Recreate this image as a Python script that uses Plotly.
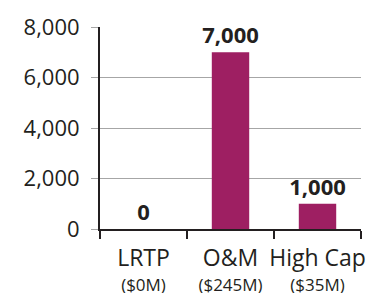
import plotly.graph_objects as go

categories = ["LRTP", "O&M", "High Cap"]
subtitles = ["($0M)", "($245M)", "($35M)"]
values = [0, 7000, 1000]
value_labels = ["0", "7,000", "1,000"]
y_ticks = [0, 2000, 4000, 6000, 8000]
y_tick_labels = ["0", "2,000", "4,000", "6,000", "8,000"]

dark = "#231f20"
grid = "#a6a6a6"
bar_color = "#9e1f62"
font_family = "'Open Sans', sans-serif"

tick_text = [
    f"<span style='font-size:23px'>{c}</span><br><span style='font-size:17px'>{s}</span>"
    for c, s in zip(categories, subtitles)
]

fig = go.Figure(go.Bar(
    x=categories,
    y=values,
    width=0.43,
    marker=dict(color=bar_color, line=dict(width=0)),
    text=value_labels,
    texttemplate="<b>%{text}</b>",
    textposition="outside",
    constraintext="none",
    textfont=dict(size=22, color=dark, family=font_family),
    cliponaxis=False,
))

fig.update_layout(
    width=369,
    height=293,
    margin=dict(l=100, r=8, t=27, b=64),
    paper_bgcolor="white",
    plot_bgcolor="white",
    showlegend=False,
    font=dict(family=font_family, color=dark),
    uniformtext=dict(mode=False),
    xaxis=dict(
        type="category",
        tickmode="array",
        tickvals=categories,
        ticktext=tick_text,
        tickson="boundaries",
        tickangle=0,
        ticks="outside",
        ticklen=8,
        tickwidth=2,
        tickcolor=dark,
        ticklabelstandoff=12,
        showline=True,
        linecolor=dark,
        linewidth=2,
        showgrid=False,
        tickfont=dict(size=19, color=dark),
        automargin=False,
        range=[-0.5, 2.5],
    ),
    yaxis=dict(
        range=[0, 8000],
        tickmode="array",
        tickvals=y_ticks,
        ticktext=y_tick_labels,
        ticks="outside",
        ticklen=7,
        tickwidth=1,
        tickcolor=grid,
        ticklabelstandoff=7,
        showline=True,
        linecolor=dark,
        linewidth=2,
        showgrid=True,
        gridcolor=grid,
        gridwidth=1,
        zeroline=False,
        tickfont=dict(size=22, color=dark),
        automargin=False,
    ),
)

fig.write_html(
    "out.html",
    config={"displayModeBar": False},
    post_script="document.body.style.margin='0';document.body.style.overflow='hidden';",
)
